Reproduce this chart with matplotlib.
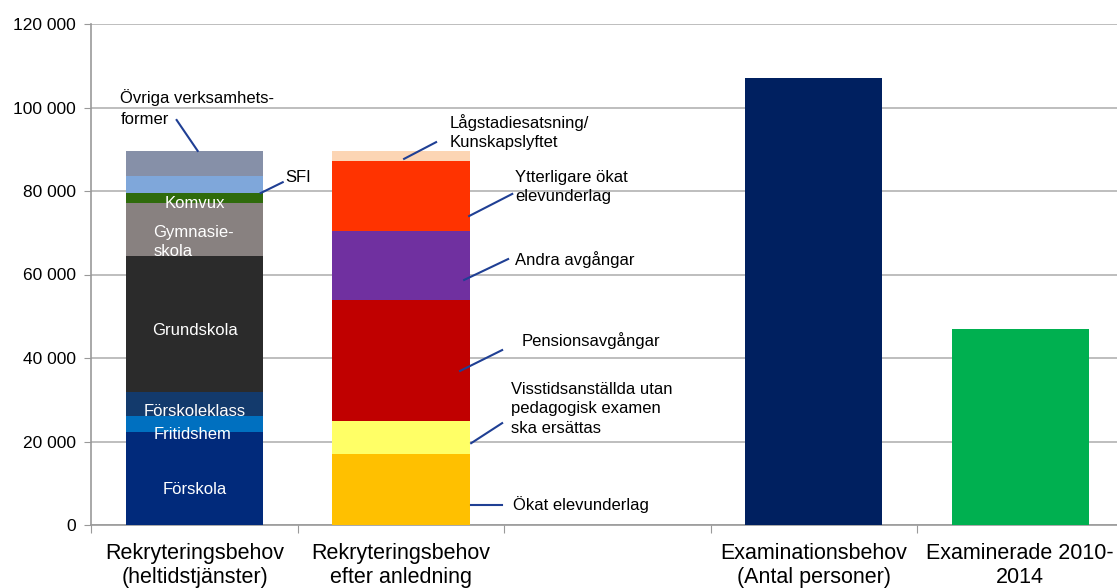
import numpy as np
import matplotlib.pyplot as plt

plt.rcParams['font.family'] = ['Liberation Sans', 'DejaVu Sans']

# kategorier på x-axeln (tredje platsen är tom)
categories = ['Rekryteringsbehov\n(heltidstjänster)', 'Rekryteringsbehov\nefter anledning', '',
              'Examinationsbehov\n(Antal personer)', 'Examinerade 2010-\n2014']

# stapel 1: rekryteringsbehov per verksamhet
verks_names = ['Förskola', 'Fritidshem', 'Förskoleklass', 'Grundskola', 'Gymnasieskola',
               'Komvux', 'SFI', 'Övriga verksamhetsformer']
verks_values = [22300, 3800, 5800, 32500, 12700, 2400, 4100, 6000]
verks_colors = ['#012a7b', '#0070c0', '#133a6c', '#2b2b2b', '#888180',
                '#2f6b0b', '#7fa7da', '#8690a8']

# stapel 2: rekryteringsbehov efter anledning
anl_names = ['Ökat elevunderlag', 'Visstidsanställda utan pedagogisk examen ska ersättas',
             'Pensionsavgångar', 'Andra avgångar', 'Ytterligare ökat elevunderlag',
             'Lågstadiesatsning/Kunskapslyftet']
anl_values = [17000, 7900, 29000, 16500, 16800, 2400]
anl_colors = ['#ffc000', '#ffff66', '#c00000', '#7030a0', '#ff3300', '#fcd5b4']

# staplar 4 och 5
exam_behov = 107000
examinerade = 46900

fig = plt.figure(figsize=(11.17, 5.88), dpi=100)
ax = fig.add_axes([91.4 / 1117, 63 / 588, 1032 / 1117, 501 / 588])

w = 0.665
bottom = 0
for v, c in zip(verks_values, verks_colors):
    ax.bar(0, v, w, bottom=bottom, color=c, zorder=3)
    bottom += v
bottom = 0
for v, c in zip(anl_values, anl_colors):
    ax.bar(1, v, w, bottom=bottom, color=c, zorder=3)
    bottom += v
ax.bar(3, exam_behov, w, color='#002060', zorder=3)
ax.bar(4, examinerade, w, color='#00b050', zorder=3)

ax.set_xlim(-0.5, 4.5)
ax.set_ylim(0, 120000)
ax.set_yticks(np.arange(0, 120001, 20000))
ax.set_yticklabels([f'{v:,}'.replace(',', ' ') for v in range(0, 120001, 20000)], fontsize=12.5)
ax.yaxis.grid(True, color='#b3b3b3', linewidth=1.2, zorder=0)
ax.tick_params(axis='y', length=5, color='#999999', pad=6)

ax.set_xticks(np.arange(-0.5, 4.6, 1))
ax.set_xticklabels([])
ax.tick_params(axis='x', which='major', length=6, color='#999999')
ax.set_xticks(np.arange(5), minor=True)
ax.set_xticklabels(categories, minor=True, fontsize=15.5, linespacing=1.2)
ax.tick_params(axis='x', which='minor', length=0, pad=13)

for s in ['top', 'right']:
    ax.spines[s].set_visible(False)
for s in ['left', 'bottom']:
    ax.spines[s].set_color('#999999')
    ax.spines[s].set_linewidth(1.2)

# etiketter inne i stapel 1
inner = dict(color='white', fontsize=12, ha='center', va='center', zorder=5)
ax.text(0, 8600, 'Förskola', **inner)
ax.text(-0.01, 21600, 'Fritidshem', **inner)
ax.text(0, 27100, 'Förskoleklass', **inner)
ax.text(0, 46500, 'Grundskola', **inner)
ax.text(-0.2, 67800, 'Gymnasie-\nskola', color='white', fontsize=12, ha='left', va='center',
        linespacing=1.35, zorder=5)
ax.text(0, 77100, 'Komvux', **inner)

line = dict(color='#1f3f94', linewidth=1.5, zorder=6)
lab = dict(color='black', fontsize=12, ha='left', va='center', linespacing=1.35, zorder=6)

ax.text(-0.36, 99900, 'Övriga verksamhets-\nformer', **dict(lab, linespacing=1.5))
ax.plot([-0.087, 0.015], [97000, 89600], **line)
ax.text(0.44, 83300, 'SFI', **lab)
ax.plot([0.427, 0.32], [82100, 79500], **line)

# etiketter till stapel 2
ax.text(1.238, 94100, 'Lågstadiesatsning/\nKunskapslyftet', **lab)
ax.plot([1.17, 1.015], [91700, 87700], **line)
ax.text(1.553, 81000, 'Ytterligare ökat\nelevunderlag', **lab)
ax.plot([1.539, 1.33], [79300, 74000], **line)
ax.text(1.553, 63500, 'Andra avgångar', **lab)
ax.plot([1.519, 1.306], [63700, 58700], **line)
ax.text(1.583, 44100, 'Pensionsavgångar', **lab)
ax.plot([1.49, 1.286], [41900, 36900], **line)
ax.text(1.534, 27800, 'Visstidsanställda utan\npedagogisk examen\nska ersättas', **lab)
ax.plot([1.49, 1.34], [24400, 19600], **line)
ax.text(1.544, 4800, 'Ökat elevunderlag', **lab)
ax.plot([1.34, 1.49], [4800, 4800], **line)

fig.savefig('out.png', dpi=100)
